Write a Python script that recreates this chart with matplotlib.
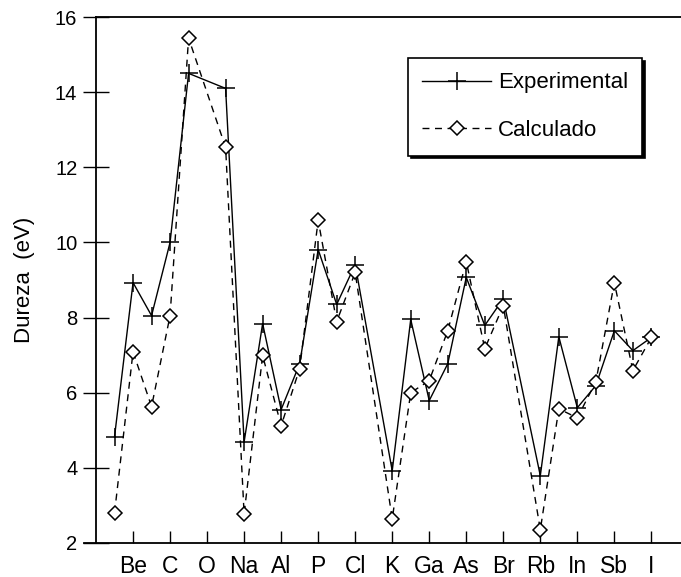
import matplotlib
matplotlib.use("Agg")
import matplotlib.pyplot as plt

plt.rcParams['font.family'] = ['Liberation Sans', 'DejaVu Sans']

# full sequence of elements along the x axis (O, Ar, Kr have no values)
sequence = ['Li', 'Be', 'B', 'C', 'N', 'O', 'F', 'Na', 'Mg', 'Al', 'Si', 'P', 'S', 'Cl',
            'Ar', 'K', 'Ca', 'Ga', 'Ge', 'As', 'Se', 'Br', 'Kr', 'Rb', 'Sr', 'In', 'Sn',
            'Sb', 'Te', 'I']
tick_labels = ['Be', 'C', 'O', 'Na', 'Al', 'P', 'Cl', 'K', 'Ga', 'As', 'Br', 'Rb', 'In',
               'Sb', 'I']

elements = ['Li', 'Be', 'B', 'C', 'N', 'F', 'Na', 'Mg', 'Al', 'Si', 'P', 'S', 'Cl',
            'K', 'Ca', 'Ga', 'Ge', 'As', 'Se', 'Br', 'Rb', 'Sr', 'In', 'Sn', 'Sb', 'Te', 'I']
experimental = [4.83, 8.93, 8.05, 10.0, 14.5, 14.1, 4.69, 7.84, 5.55, 6.77, 9.81, 8.35, 9.41,
                3.92, 7.95, 5.79, 6.77, 9.07, 7.79, 8.5, 3.79, 7.49, 5.6, 6.19, 7.65, 7.12, 7.47]
calculado = [2.8, 7.09, 5.63, 8.05, 15.44, 12.53, 2.77, 6.99, 5.12, 6.64, 10.59, 7.89, 9.2,
             2.64, 6.0, 6.32, 7.65, 9.49, 7.17, 8.32, 2.35, 5.57, 5.33, 6.29, 8.93, 6.59, 7.47]

x = [sequence.index(e) for e in elements]
xt = [sequence.index(e) for e in tick_labels]

fig = plt.figure(figsize=(6.81, 5.77), dpi=100)
ax = fig.add_axes([0.141, 0.059, 0.859, 0.9115])

ax.plot(x, experimental, color='black', lw=1.0, marker='+', ms=13, mew=1.1,
        label='Experimental')
ax.plot(x, calculado, color='black', lw=1.0, ls=(0, (5, 4)), marker='D', ms=7.5,
        mfc='white', mew=1.1, label='Calculado')

ax.set_xlim(-1.0, 30.6)
ax.set_ylim(2, 16)
ax.set_yticks(range(2, 17, 2))
ax.set_xticks(xt)
ax.set_xticklabels(tick_labels)

ax.spines['right'].set_visible(False)
for s in ['left', 'top', 'bottom']:
    ax.spines[s].set_linewidth(1.3)

ax.tick_params(axis='y', direction='inout', length=19, width=1.0, labelsize=14.5, pad=4)
ax.tick_params(axis='x', direction='in', length=9, width=1.0, labelsize=16.5, pad=9)
ax.set_ylabel('Dureza  (eV)', fontsize=16, labelpad=14)

# bottom axis line runs a bit past the left spine
ax.plot([-1.65, -1.0], [2, 2], color='black', lw=1.3, clip_on=False)

leg = ax.legend(loc='upper left', bbox_to_anchor=(0.533, 0.922), fontsize=16,
                fancybox=False, edgecolor='black', framealpha=1,
                shadow={'color': 'black', 'alpha': 1}, handlelength=3.1,
                borderpad=0.65, labelspacing=1.2, handletextpad=0.3, borderaxespad=0)
leg.get_frame().set_linewidth(1.2)

fig.savefig('out.png', dpi=100)
